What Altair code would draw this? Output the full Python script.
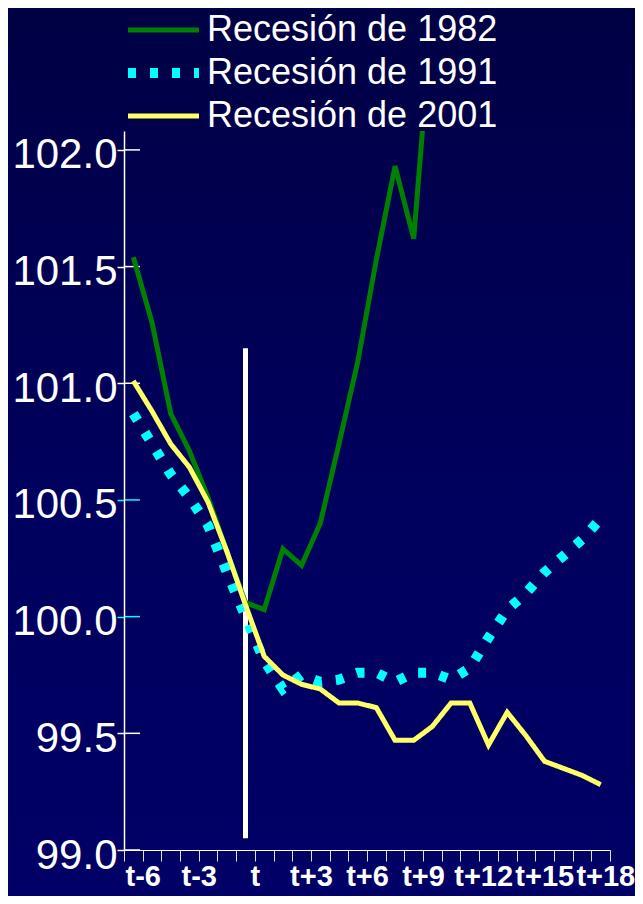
import altair as alt
import pandas as pd

# ---------------- data ----------------
categories = ["t-6", "t-5", "t-4", "t-3", "t-2", "t-1", "t",
              "t+1", "t+2", "t+3", "t+4", "t+5", "t+6", "t+7", "t+8", "t+9",
              "t+10", "t+11", "t+12", "t+13", "t+14", "t+15", "t+16", "t+17",
              "t+18", "t+19"]
series_names = ["Recesión de 1982", "Recesión de 1991", "Recesión de 2001"]

rec_1982 = [101.54, 101.26, 100.87, 100.71, 100.51, 100.28, 100.06, 100.03,
            100.29, 100.22, 100.40, 100.74, 101.09, 101.53, 101.93, 101.62,
            102.61]
rec_1991 = [100.87, 100.74, 100.61, 100.51, 100.39, 100.19, 100.00, 99.81,
            99.69, 99.75, 99.72, 99.73, 99.76, 99.76, 99.72, 99.76, 99.76,
            99.73, 99.78, 99.91, 100.03, 100.10, 100.19, 100.26, 100.33,
            100.42]
rec_2001 = [101.01, 100.88, 100.74, 100.64, 100.49, 100.28, 100.05, 99.83,
            99.75, 99.71, 99.69, 99.63, 99.63, 99.61, 99.47, 99.47, 99.53,
            99.63, 99.63, 99.45, 99.59, 99.49, 99.38, 99.35, 99.32, 99.28]

y_ticks = [99.0, 99.5, 100.0, 100.5, 101.0, 101.5, 102.0]
x_tick_labels = ["t-6", "t-3", "t", "t+3", "t+6", "t+9", "t+12", "t+15", "t+18"]
marker_category = "t"
marker_span = [99.05, 101.15]

# ---------------- tables ----------------
rows = []
for name, vals in zip(series_names, [rec_1982, rec_1991, rec_2001]):
    for i, v in enumerate(vals):
        rows.append({"serie": name, "idx": i, "cat": categories[i], "valor": v})
df = pd.DataFrame(rows)

tick_df = pd.DataFrame({"valor": y_ticks})
marker_df = pd.DataFrame({"idx": [categories.index(marker_category)],
                          "valor": [marker_span[0]],
                          "valor2": [marker_span[1]]})

# x axis: ticks at category boundaries, labels every third boundary
n = len(categories)
tick_vals = [k - 0.5 for k in range(n + 1)]
lab = [""] * (n + 1)
for t in x_tick_labels:
    lab[categories.index(t) + 1] = t
label_expr = "[" + ",".join("'" + s + "'" for s in lab) + "][round(datum.value + 0.5)]"
shift = {"t+12": 4, "t+15": 9, "t+18": 14}
label_offset = {
    "condition": [{"test": "datum.value == %s" % (categories.index(k) + 0.5), "value": v}
                  for k, v in shift.items()],
    "value": 0,
}

FONT = "Liberation Sans"
WHITE = "#ffffff"
CYAN = "#00ffff"
cyan_test = "datum.value == 100 || datum.value == 100.5"

x_enc = alt.X("idx:Q",
              scale=alt.Scale(domain=[-0.5, n - 0.5], nice=False, zero=False),
              axis=alt.Axis(values=tick_vals, labelExpr=label_expr, title=None,
                            grid=False, domainColor=WHITE, domainWidth=1.2,
                            tickColor="#e0e0e0", tickWidth=1, tickSize=11,
                            labelFont=FONT, labelFontSize=29, labelFontWeight="bold",
                            labelColor=WHITE, labelPadding=1, labelOverlap=False,
                            labelFlush=False, labelBound=False,
                            labelOffset=label_offset, zindex=1))

y_enc = alt.Y("valor:Q",
              scale=alt.Scale(domain=[99.0, 102.081], nice=False, zero=False),
              axis=alt.Axis(values=y_ticks, format=".1f", title=None, grid=False,
                            domainColor=WHITE, domainWidth=1.5,
                            tickColor={"condition": {"test": cyan_test, "value": CYAN},
                                       "value": WHITE},
                            tickWidth=1.5, tickSize=7,
                            labelFont=FONT, labelFontSize=42, labelColor=WHITE,
                            labelPadding=0, labelOffset=5, zindex=1))

# ---------------- layers ----------------
bg = alt.Chart(pd.DataFrame({"a": [0]})).mark_rect(
    color=alt.Gradient(
        gradient="linear",
        stops=[alt.GradientStop(color="#000044", offset=0),
               alt.GradientStop(color="#00005e", offset=0.55),
               alt.GradientStop(color="#000066", offset=1)],
        x1=0, x2=0, y1=0, y2=1)
).encode(x=alt.value(-116), x2=alt.value(511), y=alt.value(-123), y2=alt.value(765))

inner_ticks = alt.Chart(tick_df).mark_rule(strokeWidth=1.5).encode(
    y=y_enc,
    x=alt.value(0), x2=alt.value(16),
    color=alt.condition("datum.valor == 100 || datum.valor == 100.5",
                        alt.value(CYAN), alt.value(WHITE)),
)

marker = alt.Chart(marker_df).mark_rule(color=WHITE, strokeWidth=5, strokeCap="butt").encode(
    x=x_enc, y=y_enc, y2="valor2:Q")

leg = alt.Legend(orient="none", legendX=-1, legendY=-121, labelFont=FONT,
                 labelFontSize=36, labelColor=WHITE, labelLimit=600, labelOffset=3,
                 symbolType="stroke", symbolSize=5041, clipHeight=40,
                 rowPadding=3, padding=0)

lines = alt.Chart(df).mark_line(clip=True, strokeCap="butt", strokeJoin="miter").encode(
    x=x_enc,
    y=y_enc,
    color=alt.Color("serie:N", title=None,
                    scale=alt.Scale(domain=series_names,
                                    range=["#008000", CYAN, "#ffff66"]),
                    legend=leg),
    strokeDash=alt.StrokeDash("serie:N", title=None,
                              scale=alt.Scale(domain=series_names,
                                              range=[[1, 0], [8, 14], [1, 0]]),
                              legend=leg),
    strokeWidth=alt.StrokeWidth("serie:N", title=None,
                                scale=alt.Scale(type="ordinal", domain=series_names,
                                                range=[5, 10, 5]),
                                legend=leg),
    order="idx:Q",
)

chart = alt.layer(bg, inner_ticks, marker, lines).properties(
    width=486, height=719,
    autosize=alt.AutoSizeParams(type="none"),
    padding={"left": 116, "top": 123, "right": 25, "bottom": 46},
    background="#000055",
).configure_view(strokeWidth=0)

chart.save("out.html", embed_options={"renderer": "svg", "actions": False})
